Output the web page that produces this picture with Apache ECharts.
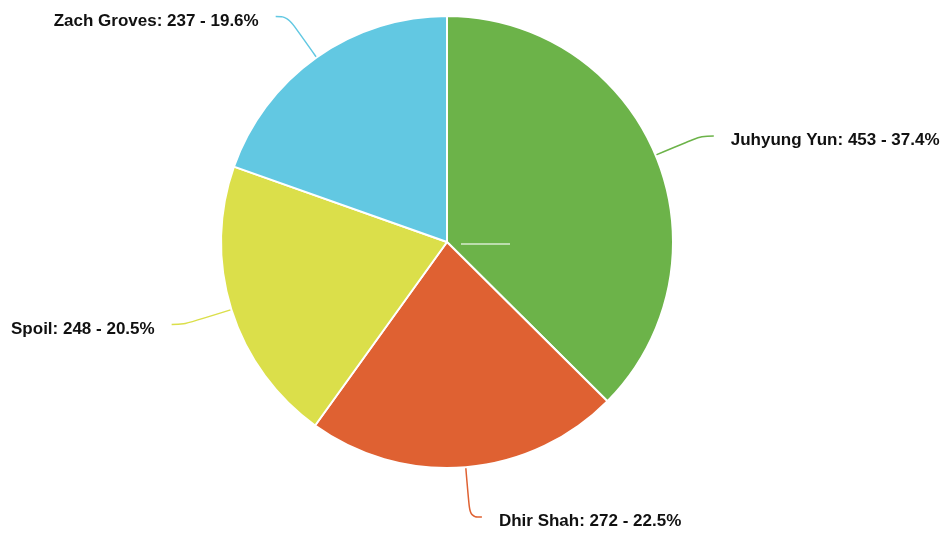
<!DOCTYPE html>
<html>
<head>
<meta charset="utf-8">
<script src="https://cdn.jsdelivr.net/npm/echarts@6/dist/echarts.min.js"></script>
<style>
  html, body { margin: 0; padding: 0; background: #fff; }
  #chart { width: 947px; height: 535px; }
</style>
</head>
<body>
<div id="chart"></div>
<script>
const names = ['Juhyung Yun', 'Dhir Shah', 'Spoil', 'Zach Groves'];
const values = [453, 272, 248, 237];
const colors = ['#6cb349', '#df6132', '#dbdf4a', '#62c8e2'];

const total = values.reduce((a, b) => a + b, 0);
const chart = echarts.init(document.getElementById('chart'));

chart.setOption({
  animation: false,
  color: colors,
  graphic: [{
    type: 'line',
    shape: { x1: 461, y1: 244, x2: 510, y2: 244 },
    style: { stroke: 'rgba(255,255,255,0.55)', lineWidth: 2 },
    z: 100
  }],
  series: [{
    type: 'pie',
    center: [447, 242],
    radius: 226,
    startAngle: 90,
    clockwise: true,
    itemStyle: { borderColor: '#fff', borderWidth: 2 },
    label: {
      show: true,
      overflow: 'none',
      distanceToLabelLine: 17,
      formatter: p => `{t|${p.name}: ${p.value} - ${(p.value / total * 100).toFixed(1)}%}`,
      rich: {
        t: {
          color: '#111',
          fontFamily: 'Liberation Sans, Arial, sans-serif',
          fontWeight: 'bold',
          fontSize: 17,
          padding: [9, 0, 0, 0]
        }
      }
    },
    labelLine: {
      show: true,
      length: 50,
      length2: 12,
      smooth: 0.4,
      lineStyle: { width: 1.5 }
    },
    data: names.map((n, i) => ({ name: n, value: values[i] }))
  }]
});
</script>
</body>
</html>
